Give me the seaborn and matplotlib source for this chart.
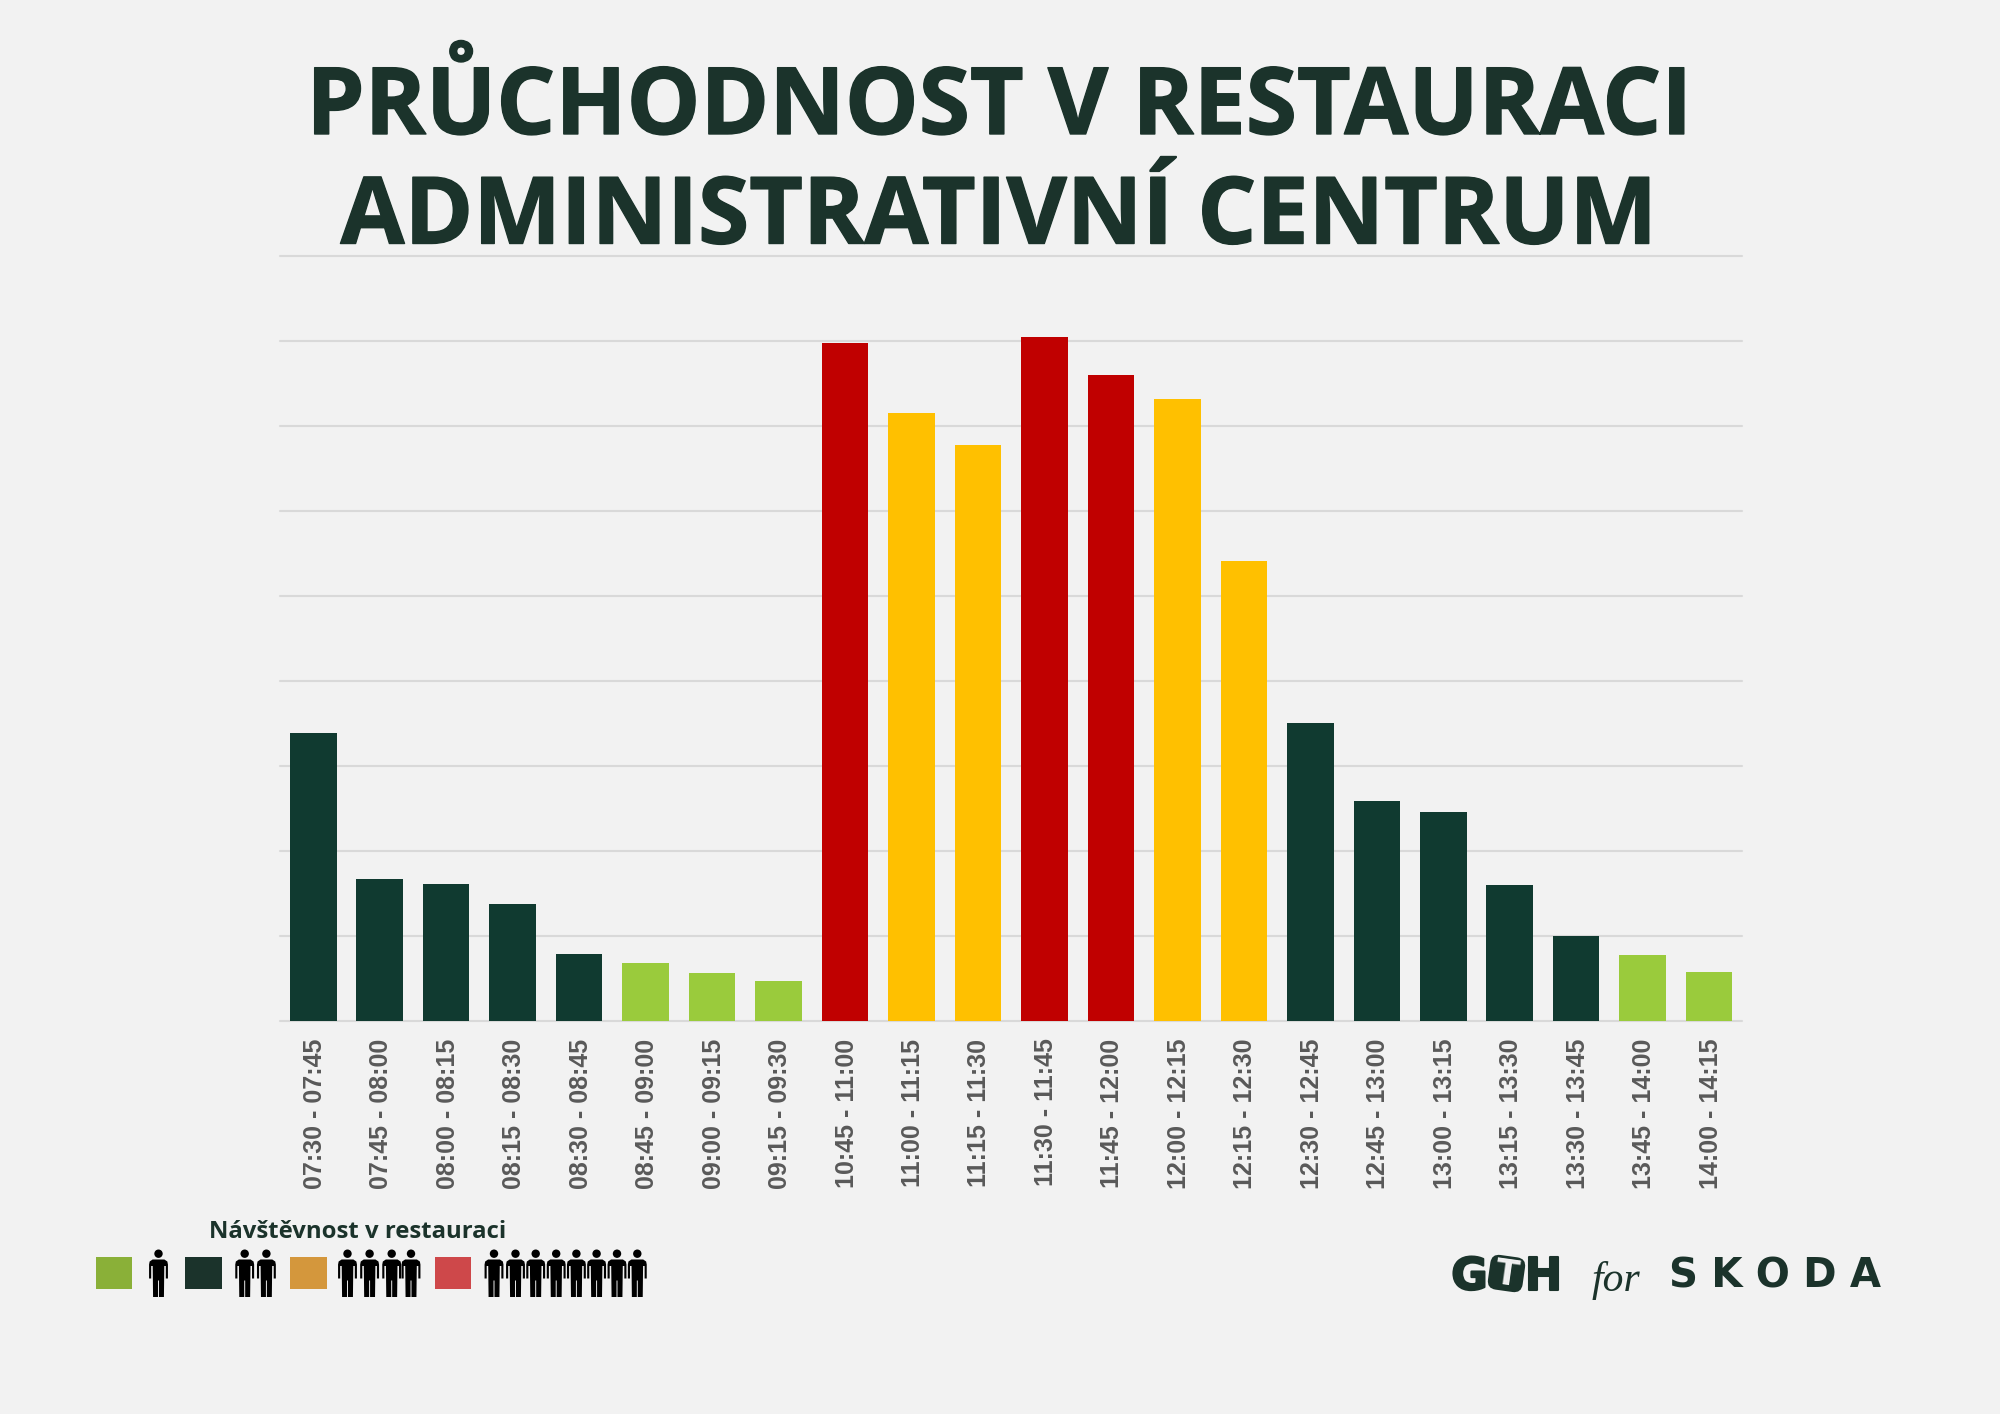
import matplotlib
matplotlib.use("Agg")
import matplotlib.pyplot as plt
from matplotlib.patches import Circle, FancyBboxPatch, Polygon, Rectangle
from matplotlib.patheffects import withStroke
from matplotlib.transforms import Affine2D, ScaledTranslation
import pandas as pd
import seaborn as sns

W, H = 2000, 1414
BG = "#F2F2F2"
INK = "#1B332B"

time_slots = [
    "07:30 - 07:45", "07:45 - 08:00", "08:00 - 08:15", "08:15 - 08:30",
    "08:30 - 08:45", "08:45 - 09:00", "09:00 - 09:15", "09:15 - 09:30",
    "10:45 - 11:00", "11:00 - 11:15", "11:15 - 11:30", "11:30 - 11:45",
    "11:45 - 12:00", "12:00 - 12:15", "12:15 - 12:30", "12:30 - 12:45",
    "12:45 - 13:00", "13:00 - 13:15", "13:15 - 13:30", "13:30 - 13:45",
    "13:45 - 14:00", "14:00 - 14:15",
]
visitors = [33.8, 16.7, 16.1, 13.7, 7.8, 6.8, 5.6, 4.7, 79.8, 71.5, 67.8,
            80.5, 76.0, 73.2, 54.1, 35.0, 25.8, 24.5, 15.9, 9.9, 7.7, 5.7]
levels = ["mid", "mid", "mid", "mid", "mid", "low", "low", "low", "peak",
          "high", "high", "peak", "peak", "high", "high", "mid", "mid", "mid",
          "mid", "mid", "low", "low"]
level_colors = {"low": "#9ACB3C", "mid": "#103A30", "high": "#FFC000", "peak": "#C00000"}
legend_colors = ["#8AB038", "#1B332B", "#D4973C", "#CE484A"]
legend_title = "Návštěvnost v restauraci"
title_lines = ["PRŮCHODNOST V RESTAURACI", "ADMINISTRATIVNÍ CENTRUM"]

sns.set_theme(style="white", rc={"figure.facecolor": BG, "axes.facecolor": BG})

fig = plt.figure(figsize=(W / 100, H / 100), dpi=100, facecolor=BG)

# Main chart area
ax = fig.add_axes([280 / W, 1 - 1020.5 / H, (1742.4 - 280) / W, (1020.5 - 256) / H])
frame = pd.DataFrame({"slot": time_slots, "visitors": visitors, "level": levels})
sns.barplot(data=frame, x="slot", y="visitors", hue="level", palette=level_colors,
            dodge=False, width=0.7, legend=False, saturation=1, linewidth=0, ax=ax)
ax.set_xlim(-0.5, len(time_slots) - 0.5)
ax.set_ylim(0, 90)
ax.set_yticks(range(0, 91, 10))
ax.set_yticklabels([])
ax.set_xlabel("")
ax.set_ylabel("")
ax.set_axisbelow(True)
ax.grid(axis="y", color="#D9D9D9", lw=1.5, clip_on=False)
ax.grid(axis="x", visible=False)
ax.tick_params(axis="both", length=0)
ax.tick_params(axis="x", pad=13)
nudge = ScaledTranslation(1.5 / 100, 0, fig.dpi_scale_trans)
for label in ax.get_xticklabels():
    label.set(rotation=90, family="Liberation Sans", weight="bold", fontsize=18, color="#595959")
    label.set_transform(label.get_transform() + nudge)
sns.despine(ax=ax, left=True, top=True, right=True, bottom=True)
ax.patch.set_alpha(0)

# Overlay in pixel coordinates for the heading, key and logos
ov = fig.add_axes([0, 0, 1, 1], zorder=5)
ov.set_xlim(0, W)
ov.set_ylim(H, 0)
ov.axis("off")

heavy = [withStroke(linewidth=1.0, foreground=INK)]
for y, line in zip((109, 219), title_lines):
    ov.text(999, y, line, family="Open Sans", weight="bold", fontsize=66.9, color=INK,
            ha="center", va="center", path_effects=heavy)

ov.text(358, 1231.5, legend_title, family="Open Sans", weight="bold", fontsize=17.2,
        color=INK, ha="center", va="center")


def person(cx, top=1249.5, kx=1.18):
    half = [(0, 10), (5, 10), (7.5, 12), (8, 15), (8, 29), (6.2, 29), (6.2, 16.5),
            (4.9, 16.5), (4.6, 47.5), (0.4, 47.5), (0.4, 31), (0, 31)]
    pts = [(cx + kx * dx, top + dy) for dx, dy in half]
    pts += [(cx - kx * dx, top + dy) for dx, dy in reversed(half)]
    ov.add_patch(Polygon(pts, closed=True, fc="black", ec="none"))
    ov.add_patch(Circle((cx, top + 4.2), 4.2, fc="black", ec="none"))


swatch_lefts = [96, 185.3, 290.1, 434.5]
people_groups = [
    [158.5],
    [244.7, 266.4],
    [347.5, 369.6, 391.7, 411],
    [494, 515.5, 535.7, 556.2, 576.4, 596.6, 617, 637.3],
]
for left, color, group in zip(swatch_lefts, legend_colors, people_groups):
    ov.add_patch(Rectangle((left, 1257), 36.4, 32, fc=color, ec="none"))
    for cx in group:
        person(cx)

# GTH logotype
logo_heavy = [withStroke(linewidth=1.5, foreground=INK)]
ov.text(1469.5, 1277, "G", family="DejaVu Sans", weight="bold", fontsize=32, color=INK,
        ha="center", va="center", path_effects=logo_heavy)
badge = FancyBboxPatch((1489, 1256), 35, 35, boxstyle="round,pad=0,rounding_size=9",
                       fc=INK, ec="none")
badge.set_transform(Affine2D().rotate_deg_around(1506.5, 1273.5, 8) + ov.transData)
ov.add_patch(badge)
ov.text(1506.5, 1275, "T", family="DejaVu Sans", weight="bold", fontsize=25, color=BG,
        ha="center", va="center", rotation=-8, rotation_mode="anchor")
ov.text(1543.5, 1277, "H", family="DejaVu Sans", weight="bold", fontsize=32, color=INK,
        ha="center", va="center", path_effects=logo_heavy)
ov.text(1616, 1281, "for", family="Liberation Serif", style="italic", fontsize=30,
        color=INK, ha="center", va="center")

# SKODA logotype
ov.text(1775, 1276, "S\u2004K\u2004O\u2004D\u2004A", family="DejaVu Sans", weight="bold",
        fontsize=29, color=INK, ha="center", va="center")

fig.savefig("out.png", dpi=100, facecolor=BG)
